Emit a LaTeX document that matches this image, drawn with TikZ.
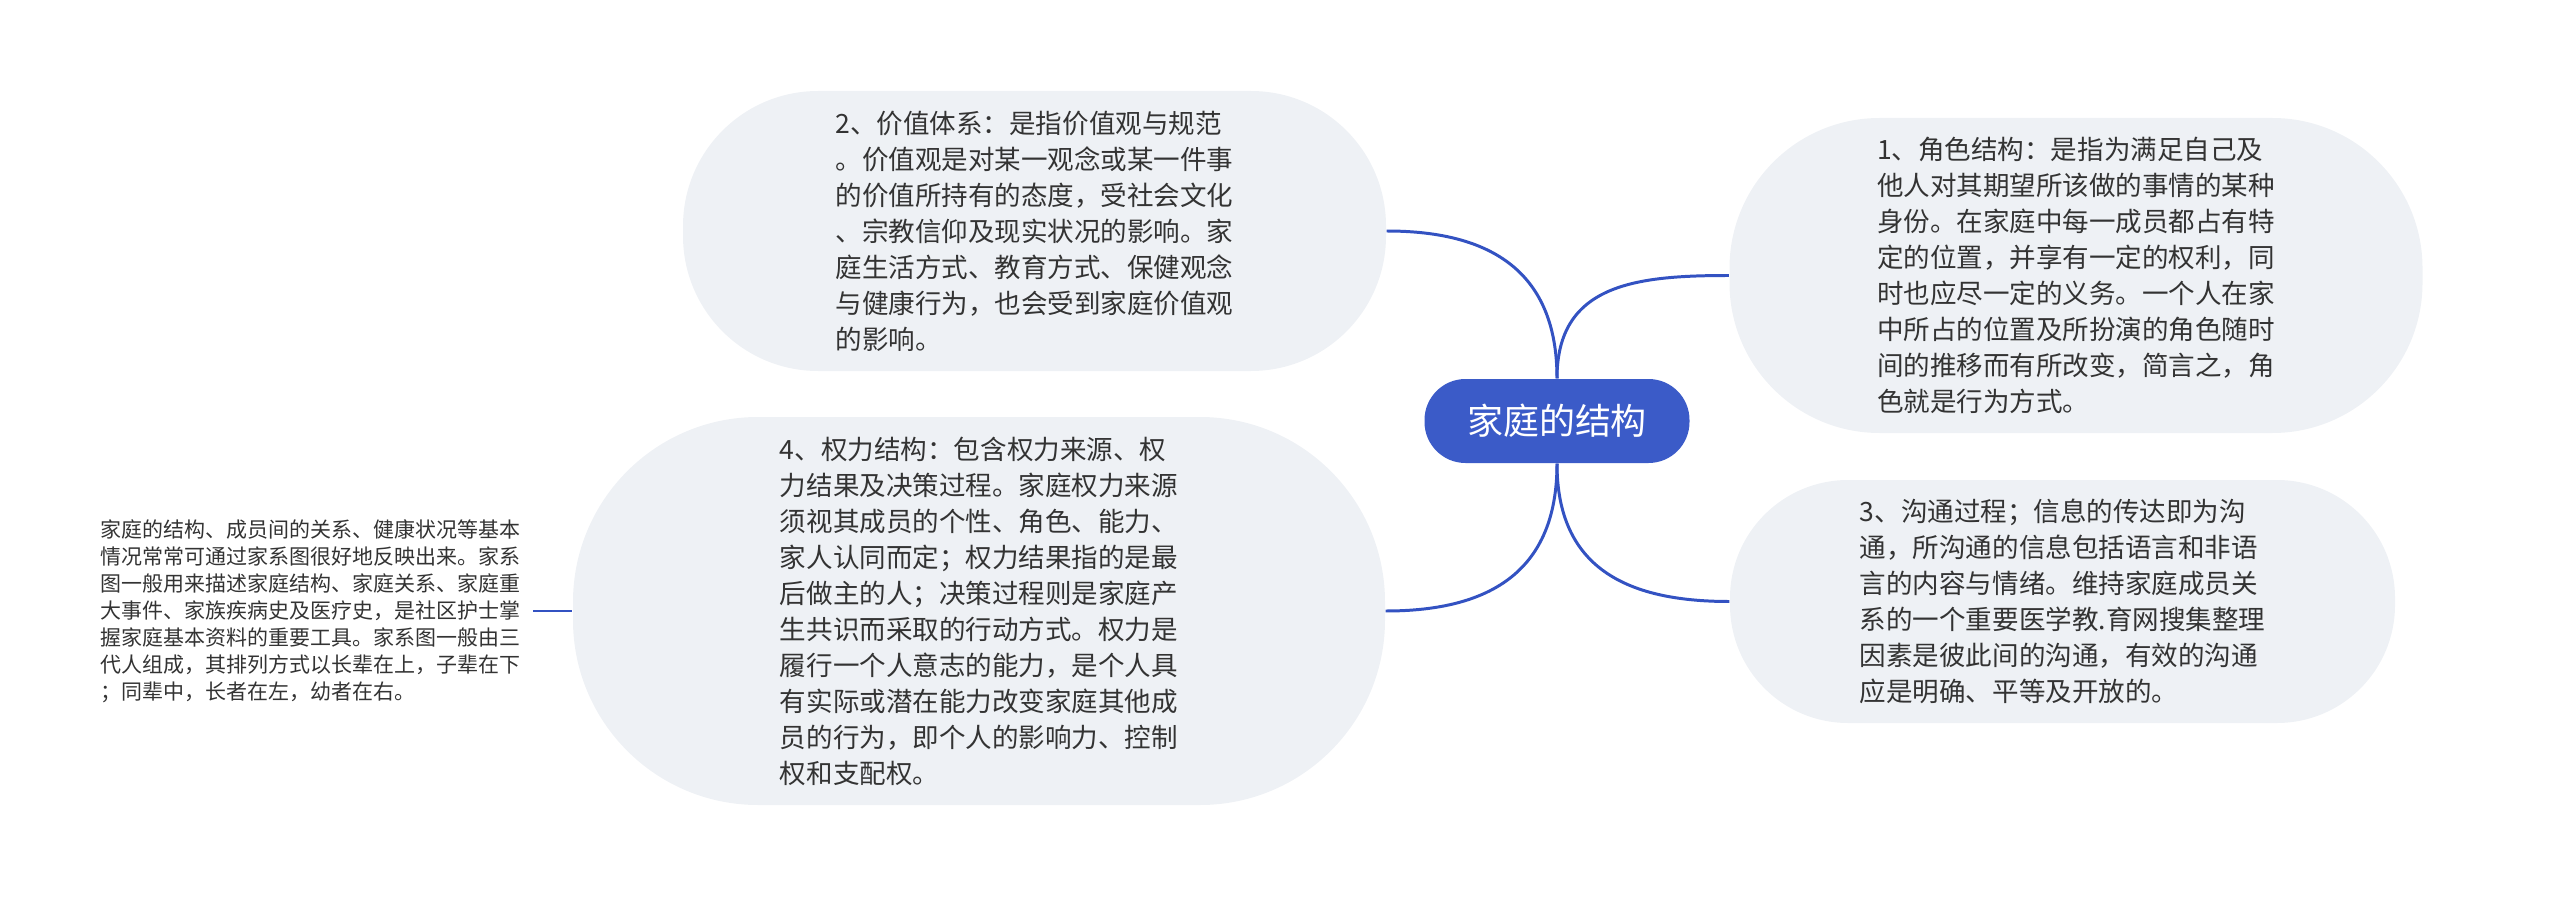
\documentclass[tikz,border=0pt]{standalone}
\usepackage{fontspec}
\setmainfont{Noto Sans CJK SC}
\usepackage{tikz}
\definecolor{bubblegray}{HTML}{EEF1F5}
\definecolor{rootblue}{HTML}{3B5BC8}
\definecolor{linkblue}{HTML}{3352C2}
\definecolor{textgray}{HTML}{333333}

\begin{document}
\begin{tikzpicture}[
    bubble/.style={fill=bubblegray, inner sep=0pt, align=left, text=textgray,
      font=\fontsize{7.55pt}{10.24pt}\selectfont},
    rootnode/.style={fill=rootblue, text=white, inner sep=0pt, rounded corners=0.41cm,
      minimum width=2.65cm, minimum height=0.84cm, font=\fontsize{10.24pt}{12pt}\selectfont},
    branch/.style={draw=linkblue, line width=0.85pt},
    leaftext/.style={align=left, text=textgray, inner xsep=0.12cm,
      font=\fontsize{5.97pt}{7.68pt}\selectfont}
  ]
			\useasboundingbox (0,0) rectangle (25.6,8.97);
			\node[rootnode] (root) at (15.57,4.76) {家庭的结构}; % Root
			\node[bubble, minimum width=6.93cm, minimum height=3.15cm, rounded corners=1.5cm] (role) at (20.76,6.215) {1、角色结构：是指为满足自己及\\他人对其期望所该做的事情的某种\\身份。在家庭中每一成员都占有特\\定的位置，并享有一定的权利，同\\时也应尽一定的义务。一个人在家\\中所占的位置及所扮演的角色随时\\间的推移而有所改变，简言之，角\\色就是行为方式。}; % Topic 1
			\node[bubble, minimum width=7.03cm, minimum height=2.80cm, rounded corners=1.35cm] (value) at (10.345,6.66) {2、价值体系：是指价值观与规范\\。价值观是对某一观念或某一件事\\的价值所持有的态度，受社会文化\\、宗教信仰及现实状况的影响。家\\庭生活方式、教育方式、保健观念\\与健康行为，也会受到家庭价值观\\的影响。}; % Topic 2
			\node[bubble, minimum width=6.65cm, minimum height=2.43cm, rounded corners=1.18cm] (talk) at (20.625,2.955) {3、沟通过程；信息的传达即为沟\\通，所沟通的信息包括语言和非语\\言的内容与情绪。维持家庭成员关\\系的一个重要医学教.育网搜集整理\\因素是彼此间的沟通，有效的沟通\\应是明确、平等及开放的。}; % Topic 3
			\node[bubble, minimum width=8.12cm, minimum height=3.88cm, rounded corners=1.85cm] (power) at (9.79,2.86) {4、权力结构：包含权力来源、权\\力结果及决策过程。家庭权力来源\\须视其成员的个性、角色、能力、\\家人认同而定；权力结果指的是最\\后做主的人；决策过程则是家庭产\\生共识而采取的行动方式。权力是\\履行一个人意志的能力，是个人具\\有实际或潜在能力改变家庭其他成\\员的行为，即个人的影响力、控制\\权和支配权。}; % Topic 4
			\node[leaftext, anchor=east] (genogram) at ([xshift=-0.39cm]power.west) {家庭的结构、成员间的关系、健康状况等基本\\情况常常可通过家系图很好地反映出来。家系\\图一般用来描述家庭结构、家庭关系、家庭重\\大事件、家族疾病史及医疗史，是社区护士掌\\握家庭基本资料的重要工具。家系图一般由三\\代人组成，其排列方式以长辈在上，子辈在下\\；同辈中，长者在左，幼者在右。}; % Note on 4
			\draw[branch] (root.north) to[out=90, in=180, looseness=1.2] (role.west); % to 1
			\draw[branch] (root.north) to[out=90, in=0, looseness=1.2] (value.east); % to 2
			\draw[branch] (root.south) to[out=-90, in=180, looseness=1.2] (talk.west); % to 3
			\draw[branch] (root.south) to[out=-90, in=0, looseness=1.2] (power.east); % to 4
			\draw[branch] (genogram.east) -- (power.west); % to note
		\end{tikzpicture}
\end{document}
